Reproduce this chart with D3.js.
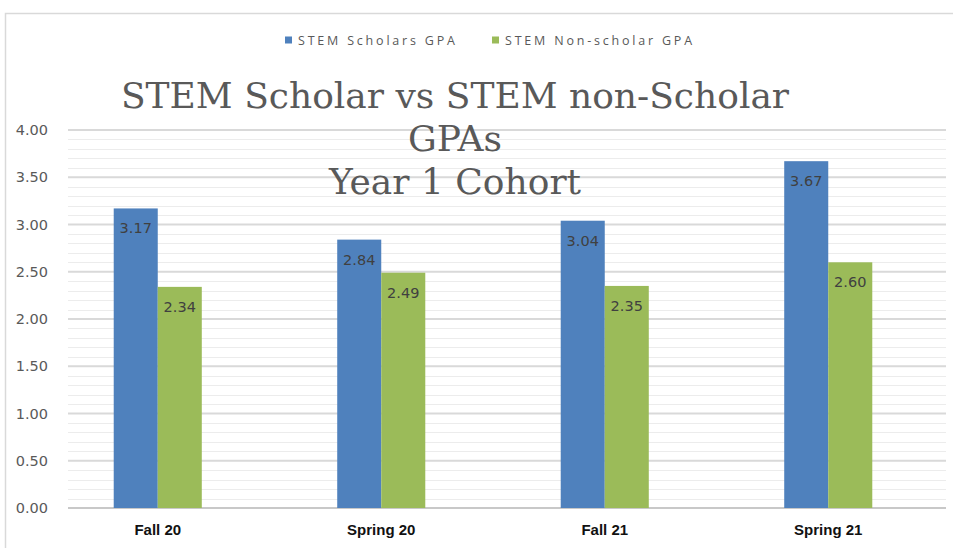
<!DOCTYPE html>
<html><head><meta charset="utf-8">
<script src="https://cdn.jsdelivr.net/npm/d3@7"></script>
<style>body{margin:0;background:#fff}svg{display:block}</style>
</head><body>
<svg id="c" width="953" height="548"></svg>
<script>
const categories = ["Fall 20", "Spring 20", "Fall 21", "Spring 21"];
const seriesNames = ["STEM Scholars GPA", "STEM Non-scholar GPA"];
const scholarGPA = [3.17, 2.84, 3.04, 3.67];
const nonScholarGPA = [2.34, 2.49, 2.35, 2.60];
const yTicks = [0, 0.5, 1, 1.5, 2, 2.5, 3, 3.5, 4];
const titleLines = ["STEM Scholar vs STEM non-Scholar", "GPAs", "Year 1 Cohort"];
const colors = ["#4f81bd", "#9bbb59"];

const svg = d3.select("#c");
// outer frame
svg.append("path").attr("d","M5.5,548 V13.5 H953").attr("fill","none").attr("stroke","#d9d9d9").attr("stroke-width",1.5);

const y = d3.scaleLinear().domain([0,4]).range([508,130]);
const x0 = d3.scaleBand().domain(categories).range([46,940]).paddingInner(0.606).paddingOuter(0.303);
const x1 = d3.scaleBand().domain(seriesNames).range([0,x0.bandwidth()]);
const gridL = 68, gridR = 946;

// minor gridlines
const minor = d3.range(0,41).map(d=>d/10).filter(v=>Math.abs(v*2-Math.round(v*2))>1e-6);
svg.append("g").selectAll("line").data(minor).join("line")
  .attr("x1",gridL).attr("x2",gridR).attr("y1",d=>Math.round(y(d))+0.5).attr("y2",d=>Math.round(y(d))+0.5)
  .attr("stroke","#ececec").attr("stroke-width",1);
// major gridlines
svg.append("g").selectAll("line").data(yTicks).join("line")
  .attr("x1",gridL).attr("x2",gridR).attr("y1",d=>y(d)).attr("y2",d=>y(d))
  .attr("stroke",d=>d===0?"#c8c8c8":"#d9d9d9").attr("stroke-width",2);

// y tick labels
svg.append("g").selectAll("text").data(yTicks).join("text")
  .attr("x",48).attr("y",d=>y(d)).attr("dy","0.36em").attr("text-anchor","end")
  .attr("font-family","DejaVu Sans").attr("font-size",14.5).attr("fill","#595959")
  .text(d=>d3.format(".2f")(d));

// bars
const data = categories.map((c,i)=>({cat:c, vals:[scholarGPA[i], nonScholarGPA[i]]}));
const groups = svg.append("g").selectAll("g").data(data).join("g")
  .attr("transform",d=>`translate(${x0(d.cat)},0)`);
groups.selectAll("rect").data(d=>d.vals.map((v,j)=>({v, s:seriesNames[j], j}))).join("rect")
  .attr("x",d=>x1(d.s)).attr("width",x1.bandwidth())
  .attr("y",d=>y(d.v)).attr("height",d=>y(0)-y(d.v)).attr("fill",d=>colors[d.j]);
groups.selectAll("text").data(d=>d.vals.map((v,j)=>({v, s:seriesNames[j], j}))).join("text")
  .attr("x",d=>x1(d.s)+x1.bandwidth()/2).attr("y",d=>y(d.v)+25).attr("text-anchor","middle")
  .attr("font-family","DejaVu Sans").attr("font-size",14.5).attr("fill","#404040")
  .text(d=>d3.format(".2f")(d.v));

// x labels
svg.append("g").selectAll("text").data(categories).join("text")
  .attr("x",d=>x0(d)+x0.bandwidth()/2).attr("y",535).attr("text-anchor","middle")
  .attr("font-family","Liberation Sans, Arial").attr("font-weight","bold").attr("font-size",15).attr("fill","#111")
  .text(d=>d);

// legend
const legX = [285, 492];
const leg = svg.append("g").selectAll("g").data(seriesNames).join("g")
  .attr("transform",(d,i)=>`translate(${legX[i]},40)`);
leg.append("rect").attr("x",0).attr("y",-3.5).attr("width",7).attr("height",7).attr("fill",(d,i)=>colors[i]);
leg.append("text").attr("x",13).attr("y",0).attr("dy","0.36em")
  .attr("font-family","Open Sans").attr("font-size",12.5).attr("letter-spacing",2.8).attr("fill","#595959").text(d=>d);

// title
svg.append("g").selectAll("text").data(titleLines).join("text")
  .attr("x",455).attr("y",(d,i)=>108+i*43).attr("text-anchor","middle")
  .attr("font-family","DejaVu Serif").attr("font-size",36).attr("fill","#595959")
  .text(d=>d);
</script>
</body></html>
